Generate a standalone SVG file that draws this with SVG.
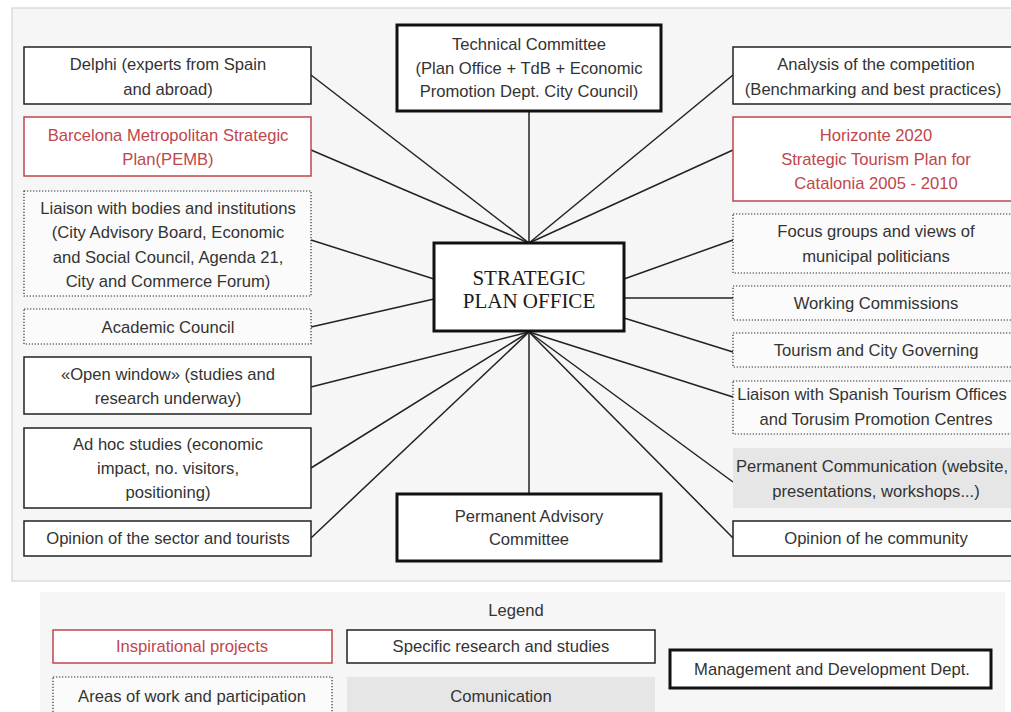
<svg xmlns="http://www.w3.org/2000/svg" width="1011" height="712" viewBox="0 0 1011 712">
<style>
.panel{fill:#f6f6f6;stroke:#dcdcdc;stroke-width:1.5}
.box{fill:#ffffff;stroke:#222;stroke-width:1.5}
.red{fill:#ffffff;stroke:#c0464b;stroke-width:1.5}
.dot{fill:#fbfbfb;stroke:#333;stroke-width:1.2;stroke-dasharray:1.3 1.7}
.gray{fill:#e6e6e6;stroke:none}
.thick{fill:#ffffff;stroke:#111;stroke-width:3}
.t{font-family:"Liberation Sans",Arial,sans-serif;font-size:16.6px;fill:#333;text-anchor:middle}
.tr{font-family:"Liberation Sans",Arial,sans-serif;font-size:16.6px;fill:#c0464b;text-anchor:middle}
.ts{font-family:"Liberation Serif","Times New Roman",serif;font-size:21px;fill:#1a1a1a;text-anchor:middle}
.c{stroke:#222;stroke-width:1.5;fill:none}
</style>
<rect class="panel" x="12" y="8" width="1012" height="573"/>
<rect x="40" y="592" width="965" height="130" fill="#f6f6f6"/>
<g id="connectors">
<line class="c" x1="529" y1="243" x2="311" y2="75"/>
<line class="c" x1="529" y1="243" x2="311" y2="150"/>
<line class="c" x1="529" y1="243" x2="529" y2="111"/>
<line class="c" x1="529" y1="243" x2="733" y2="75"/>
<line class="c" x1="529" y1="243" x2="733" y2="150"/>
<line class="c" x1="434" y1="279" x2="311" y2="240"/>
<line class="c" x1="434" y1="299" x2="311" y2="327"/>
<line class="c" x1="624" y1="279" x2="733" y2="240"/>
<line class="c" x1="624" y1="298" x2="733" y2="298"/>
<line class="c" x1="624" y1="318" x2="733" y2="352"/>
<line class="c" x1="529" y1="332" x2="311" y2="387"/>
<line class="c" x1="529" y1="332" x2="311" y2="468"/>
<line class="c" x1="529" y1="332" x2="311" y2="538"/>
<line class="c" x1="529" y1="332" x2="529" y2="494"/>
<line class="c" x1="529" y1="332" x2="733" y2="397"/>
<line class="c" x1="529" y1="332" x2="733" y2="482"/>
<line class="c" x1="529" y1="332" x2="733" y2="538"/>
</g>
<g id="center">
<rect class="thick" x="434" y="243" width="190" height="88"/>
<text class="ts" x="529" y="285">STRATEGIC</text>
<text class="ts" x="529" y="308">PLAN OFFICE</text>
</g>
<g id="technical">
<rect class="thick" x="397" y="25" width="264" height="86"/>
<text class="t" x="529" y="50">Technical Committee</text>
<text class="t" x="529" y="74">(Plan Office + TdB + Economic</text>
<text class="t" x="529" y="97">Promotion Dept. City Council)</text>
</g>
<g id="advisory">
<rect class="thick" x="397" y="494" width="264" height="67"/>
<text class="t" x="529" y="522">Permanent Advisory</text>
<text class="t" x="529" y="545">Committee</text>
</g>
<g id="delphi">
<rect class="box" x="24" y="47" width="287" height="57"/>
<text class="t" x="168" y="70">Delphi (experts from Spain</text>
<text class="t" x="168" y="95">and abroad)</text>
</g>
<g id="pemb">
<rect class="red" x="24" y="117" width="287" height="59"/>
<text class="tr" x="168" y="141">Barcelona Metropolitan Strategic</text>
<text class="tr" x="168" y="165">Plan(PEMB)</text>
</g>
<g id="liaison-bodies">
<rect class="dot" x="24" y="191" width="287" height="105"/>
<text class="t" x="168" y="214">Liaison with bodies and institutions</text>
<text class="t" x="168" y="238">(City Advisory Board, Economic</text>
<text class="t" x="168" y="263">and Social Council, Agenda 21,</text>
<text class="t" x="168" y="287">City and Commerce Forum)</text>
</g>
<g id="academic">
<rect class="dot" x="24" y="309" width="287" height="35"/>
<text class="t" x="168" y="333">Academic Council</text>
</g>
<g id="open-window">
<rect class="box" x="24" y="357" width="287" height="57"/>
<text class="t" x="168" y="380">«Open window» (studies and</text>
<text class="t" x="168" y="404">research underway)</text>
</g>
<g id="adhoc">
<rect class="box" x="24" y="428" width="287" height="80"/>
<text class="t" x="168" y="450">Ad hoc studies (economic</text>
<text class="t" x="168" y="474">impact, no. visitors,</text>
<text class="t" x="168" y="498">positioning)</text>
</g>
<g id="opinion-sector">
<rect class="box" x="24" y="521" width="287" height="35"/>
<text class="t" x="168" y="544">Opinion of the sector and tourists</text>
</g>
<g id="analysis">
<rect class="box" x="733" y="47" width="290" height="57"/>
<text class="t" x="876" y="70">Analysis of the competition</text>
<text class="t" x="873" y="95">(Benchmarking and best practices)</text>
</g>
<g id="horizonte">
<rect class="red" x="733" y="117" width="290" height="84"/>
<text class="tr" x="876" y="141">Horizonte 2020</text>
<text class="tr" x="876" y="165">Strategic Tourism Plan for</text>
<text class="tr" x="876" y="189">Catalonia 2005 - 2010</text>
</g>
<g id="focus">
<rect class="dot" x="733" y="214" width="290" height="59"/>
<text class="t" x="876" y="237">Focus groups and views of</text>
<text class="t" x="876" y="262">municipal politicians</text>
</g>
<g id="working">
<rect class="dot" x="733" y="286" width="290" height="34"/>
<text class="t" x="876" y="309">Working Commissions</text>
</g>
<g id="tourism-city">
<rect class="dot" x="733" y="333" width="290" height="34"/>
<text class="t" x="876" y="356">Tourism and City Governing</text>
</g>
<g id="liaison-spanish">
<rect class="dot" x="733" y="381" width="290" height="53"/>
<text class="t" x="872" y="400">Liaison with Spanish Tourism Offices</text>
<text class="t" x="876" y="425">and Torusim Promotion Centres</text>
</g>
<g id="communication">
<rect class="gray" x="733" y="448" width="290" height="60"/>
<text class="t" x="872" y="472">Permanent Communication (website,</text>
<text class="t" x="876" y="497">presentations, workshops...)</text>
</g>
<g id="opinion-community">
<rect class="box" x="733" y="521" width="290" height="35"/>
<text class="t" x="876" y="544">Opinion of he community</text>
</g>
<g id="legend">
<text class="t" x="516" y="616">Legend</text>
<rect class="red" x="53" y="630" width="279" height="33"/>
<text class="tr" x="192" y="652">Inspirational projects</text>
<rect class="box" x="347" y="630" width="308" height="33"/>
<text class="t" x="501" y="652">Specific research and studies</text>
<rect class="dot" x="53" y="677" width="279" height="40"/>
<text class="t" x="192" y="702">Areas of work and participation</text>
<rect class="gray" x="347" y="677" width="308" height="40"/>
<text class="t" x="501" y="702">Comunication</text>
<rect class="thick" x="670" y="650" width="321" height="38"/>
<text class="t" x="832" y="675">Management and Development Dept.</text>
</g>
</svg>
